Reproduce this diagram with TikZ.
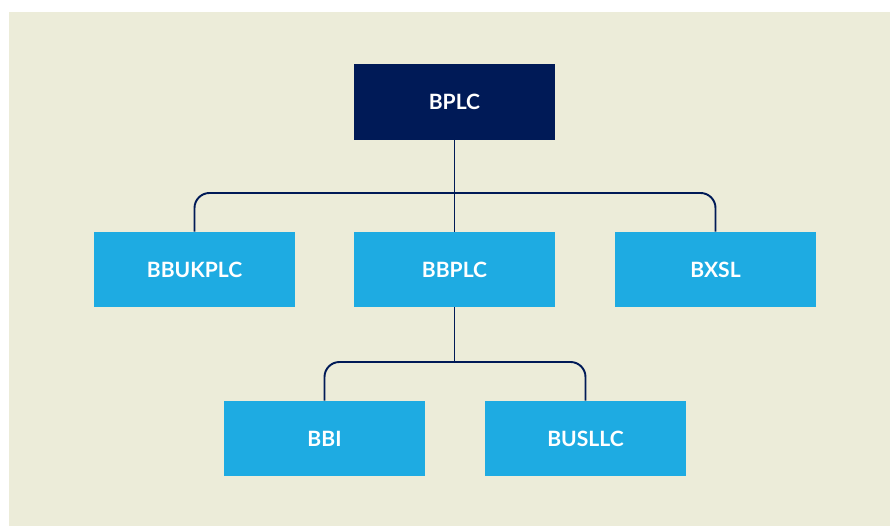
\documentclass[tikz,border=0pt]{standalone}
\usepackage{fontspec}
\setsansfont{Lato}
\definecolor{navy}{HTML}{001A57}
\definecolor{sky}{HTML}{1EABE2}
\definecolor{paper}{HTML}{ECECD9}
\begin{document}
\begin{tikzpicture}[x=0.02cm,y=-0.02cm,
	entity/.style={fill=sky,minimum width=4.02cm,minimum height=1.5cm,inner sep=0pt,
		text=white,font=\sffamily\bfseries\fontsize{12}{14}\selectfont},
	parent/.style={entity,fill=navy,minimum height=1.52cm},
	link/.style={draw=navy,line width=1.1pt,rounded corners=0.3cm}]
	\useasboundingbox (0,0) rectangle (890,526);
	\fill[paper] (9,12) rectangle (890,526);
	% levels of the group
	\node[parent] (bplc) at (454.5,102) {BPLC};
	\node[entity] (bbukplc) at (194.5,269.5) {BBUKPLC};
	\node[entity] (bbplc) at (454.5,269.5) {BBPLC};
	\node[entity] (bxsl) at (715.5,269.5) {BXSL};
	\node[entity] (bbi) at (324.5,438.5) {BBI};
	\node[entity] (busllc) at (585.5,438.5) {BUSLLC};
	\coordinate (bar1) at (0,193);
	\coordinate (bar2) at (0,362);
	% connectors
	\draw[link] (bplc) -- (bbplc);
	\draw[link] (bbukplc.north) |- (bar1 -| bbplc) -| (bxsl.north);
	\draw[link] (bbplc) -- (bar2 -| bbplc);
	\draw[link] (bbi.north) |- (bar2 -| bbplc) -| (busllc.north);
\end{tikzpicture}
\end{document}
